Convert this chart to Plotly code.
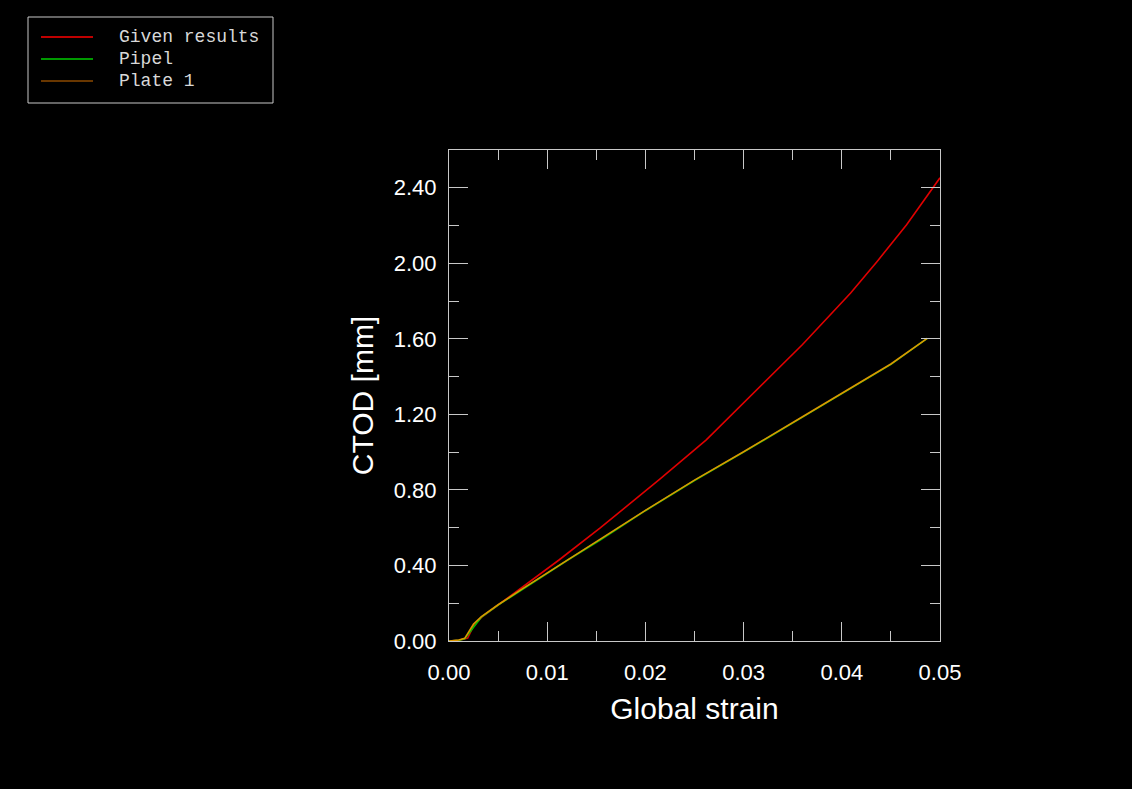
import plotly.graph_objects as go

# Global strain vs CTOD curves
given_strain = [0.0, 0.001, 0.0019, 0.0025, 0.0033, 0.005, 0.0075, 0.0112, 0.0154,
                0.0215, 0.0262, 0.0324, 0.0360, 0.0409, 0.0436, 0.0466, 0.0500]
given_ctod = [0.0, 0.004, 0.015, 0.080, 0.125, 0.190, 0.285, 0.429, 0.599,
              0.858, 1.065, 1.383, 1.570, 1.843, 2.010, 2.204, 2.453]

pipe_strain = [0.0, 0.001, 0.0016, 0.002, 0.0025, 0.0033, 0.005, 0.0075, 0.0121,
               0.0154, 0.020, 0.025, 0.030, 0.0357, 0.040, 0.045, 0.0487]
pipe_ctod = [0.0, 0.004, 0.012, 0.040, 0.075, 0.127, 0.190, 0.275, 0.429,
             0.535, 0.690, 0.850, 1.000, 1.176, 1.310, 1.465, 1.602]

plate_strain = [0.0, 0.001, 0.0016, 0.002, 0.0025, 0.0033, 0.005, 0.0075, 0.0121,
                0.0154, 0.020, 0.025, 0.030, 0.0357, 0.040, 0.045, 0.0487]
plate_ctod = [0.0, 0.005, 0.014, 0.050, 0.090, 0.129, 0.192, 0.277, 0.431,
              0.537, 0.692, 0.852, 1.002, 1.178, 1.312, 1.467, 1.603]

series_names = ["Given results", "Pipel", "Plate 1"]
legend_colors = ["#ff0000", "#00cc00", "#8c4a00"]
line_colors = ["#e00000", "#00c000", "#dc9400"]

x_ticks = [0.0, 0.01, 0.02, 0.03, 0.04, 0.05]
y_ticks = [0.0, 0.4, 0.8, 1.2, 1.6, 2.0, 2.4]

fig = go.Figure()
for name, xs, ys, col in zip(series_names, [given_strain, pipe_strain, plate_strain],
                             [given_ctod, pipe_ctod, plate_ctod], line_colors):
    fig.add_trace(go.Scatter(x=xs, y=ys, mode="lines", name=name, showlegend=False,
                             line=dict(color=col, width=1.6)))

# Plot area in pixels: used to place the key box in the top-left corner of the page
PLOT_L, PLOT_R, PLOT_T, PLOT_B = 449, 940, 150, 641
PW, PH = PLOT_R - PLOT_L, PLOT_B - PLOT_T


def px(x):
    return (x - PLOT_L) / PW


def py(y):
    return (PLOT_B - y) / PH


shapes = [dict(type="rect", xref="paper", yref="paper",
               x0=px(28), x1=px(273), y0=py(17), y1=py(103),
               line=dict(color="#c8c8c8", width=1), fillcolor="black", layer="below")]
annotations = []
row_y = [37, 59, 81]
for name, col, ry in zip(series_names, legend_colors, row_y):
    shapes.append(dict(type="line", xref="paper", yref="paper",
                       x0=px(41), x1=px(93), y0=py(ry), y1=py(ry),
                       line=dict(color=col, width=1.6)))
    annotations.append(dict(text=name, xref="paper", yref="paper", x=px(117), y=py(ry),
                            xanchor="left", yanchor="middle", showarrow=False,
                            font=dict(family="Liberation Mono, Courier New", size=18,
                                      color="#d8d8d8")))

axis_col = "#c8c8c8"
tick_font = dict(family="Liberation Sans, Arial", size=22, color="#ffffff")
title_font = dict(family="Liberation Sans, Arial", size=30, color="#ffffff")

fig.update_layout(
    width=1132, height=789,
    paper_bgcolor="black", plot_bgcolor="black",
    margin=dict(l=PLOT_L, r=1132 - PLOT_R, t=PLOT_T, b=789 - PLOT_B),
    showlegend=False,
    shapes=shapes, annotations=annotations,
    xaxis=dict(range=[0, 0.05], tickvals=x_ticks, ticktext=[f"{v:.2f}" for v in x_ticks],
               ticks="inside", ticklen=19, tickcolor=axis_col, tickwidth=1,
               showline=True, linecolor=axis_col, linewidth=1, mirror="allticks",
               showgrid=False, zeroline=False, tickfont=tick_font, ticklabelstandoff=12,
               minor=dict(dtick=0.005, ticks="inside", ticklen=10, tickcolor=axis_col, showgrid=False),
               title=dict(text="Global strain", standoff=13, font=title_font)),
    yaxis=dict(range=[0, 2.6], tickvals=y_ticks, ticktext=[f"{v:.2f}" for v in y_ticks],
               ticks="inside", ticklen=19, tickcolor=axis_col, tickwidth=1,
               showline=True, linecolor=axis_col, linewidth=1, mirror="allticks",
               showgrid=False, zeroline=False, tickfont=tick_font, ticklabelstandoff=7,
               minor=dict(dtick=0.2, ticks="inside", ticklen=10, tickcolor=axis_col, showgrid=False),
               title=dict(text="CTOD [mm]", standoff=11, font=title_font)),
)

fig.write_html("out.html")
